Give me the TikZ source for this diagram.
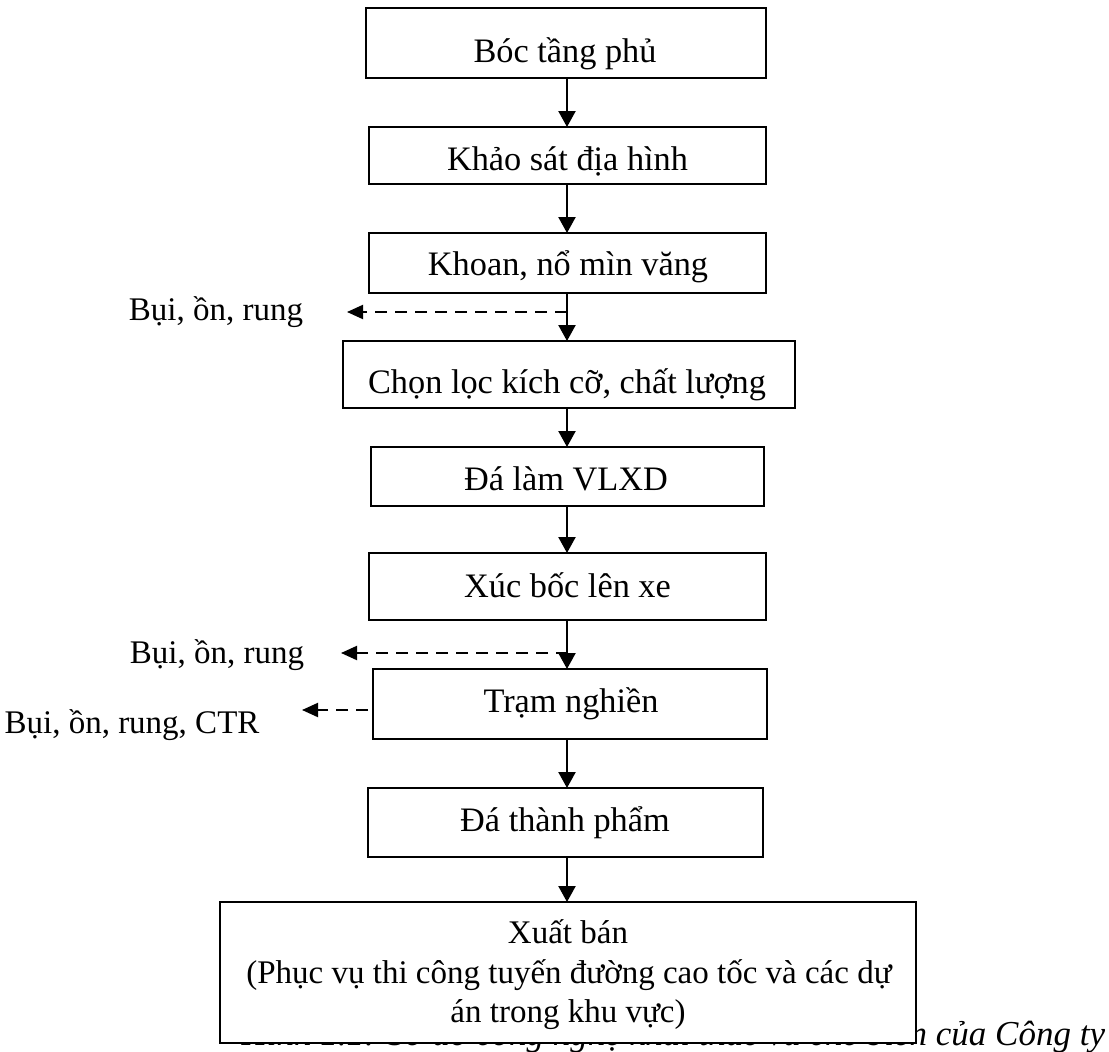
\documentclass[tikz,border=0pt]{standalone}
\usepackage{fontspec}
\setmainfont{Liberation Serif}
\usetikzlibrary{arrows.meta}
\begin{document}
\begin{tikzpicture}[x=1pt,y=-1pt,
  box/.style={draw, line width=2pt, fill=white, inner sep=0pt, outer sep=0pt},
  txt/.style={inner sep=0pt, outer sep=0pt, anchor=base, font=\fontsize{33}{39}\selectfont},
  btxt/.style={txt, font=\fontsize{34.3}{40}\selectfont},
  arr/.style={line width=2.3pt, -{Triangle[length=16pt,width=17pt]}},
  darr/.style={line width=2pt, dash pattern=on 12pt off 8pt, -{Triangle[length=16pt,width=14pt]}}]
\useasboundingbox (0,0) rectangle (1109,1052);

% caption (partly hidden by the last box)
\node[inner sep=0pt, outer sep=0pt, anchor=base east, font=\fontsize{35}{40}\selectfont\itshape] (cap) at (1105,1045) {Hình 1.1: Sơ đồ công nghệ khai thác và chế biến của Công ty};

% boxes
\node[box, minimum width=400pt, minimum height=70pt] (b1) at (566,43) {};
\node[box, minimum width=397pt, minimum height=57pt] (b2) at (567.5,155.5) {};
\node[box, minimum width=397pt, minimum height=60pt] (b3) at (567.5,263) {};
\node[box, minimum width=452pt, minimum height=67pt] (b4) at (569,374.5) {};
\node[box, minimum width=393pt, minimum height=59pt] (b5) at (567.5,476.5) {};
\node[box, minimum width=397pt, minimum height=67pt] (b6) at (567.5,586.5) {};
\node[box, minimum width=394pt, minimum height=70pt] (b7) at (570,704) {};
\node[box, minimum width=395pt, minimum height=69pt] (b8) at (565.5,822.5) {};
\node[box, minimum width=696pt, minimum height=141pt] (b9) at (568,972.5) {};

% texts
\node[btxt] (t1) at (565,62) {Bóc tầng phủ};
\node[btxt] (t2) at (567.5,170) {Khảo sát địa hình};
\node[btxt] (t3) at (568,275) {Khoan, nổ mìn văng};
\node[btxt] (t4) at (567,393) {Chọn lọc kích cỡ, chất lượng};
\node[btxt] (t5) at (566,490) {Đá làm VLXD};
\node[btxt] (t6) at (567.5,597) {Xúc bốc lên xe};
\node[btxt] (t7) at (571,712) {Trạm nghiền};
\node[btxt] (t8) at (565,831) {Đá thành phẩm};
\node[txt] (t9a) at (568,943) {Xuất bán};
\node[txt] (t9b) at (569,983) {(Phục vụ thi công tuyến đường cao tốc và các dự};
\node[txt] (t9c) at (568,1022) {án trong khu vực)};

% side labels
\node[txt] (l1) at (216,320) {Bụi, ồn, rung};
\node[txt] (l2) at (217,663) {Bụi, ồn, rung};
\node[txt] (l3) at (132,733) {Bụi, ồn, rung, CTR};

% main flow
\coordinate (ax) at (567,0);
\draw[arr] (b1.south -| ax) -- (b2.north -| ax);
\draw[arr] (b2.south -| ax) -- (b3.north -| ax);
\draw[arr] (b3.south -| ax) -- (b4.north -| ax);
\draw[arr] (b4.south -| ax) -- (b5.north -| ax);
\draw[arr] (b5.south -| ax) -- (b6.north -| ax);
\draw[arr] (b6.south -| ax) -- (b7.north -| ax);
\draw[arr] (b7.south -| ax) -- (b8.north -| ax);
\draw[arr] (b8.south -| ax) -- (b9.north -| ax);

% emissions
\coordinate (d1s) at (567,312);
\coordinate (d1e) at (347,312);
\draw[darr] (d1s) -- (d1e);
\coordinate (d2s) at (568,653);
\coordinate (d2e) at (341,653);
\draw[darr] (d2s) -- (d2e);
\coordinate (d3e) at (302,710);
\draw[darr, shorten <=5pt] ([yshift=-6pt]b7.west) -- (d3e);
\end{tikzpicture}
\end{document}
